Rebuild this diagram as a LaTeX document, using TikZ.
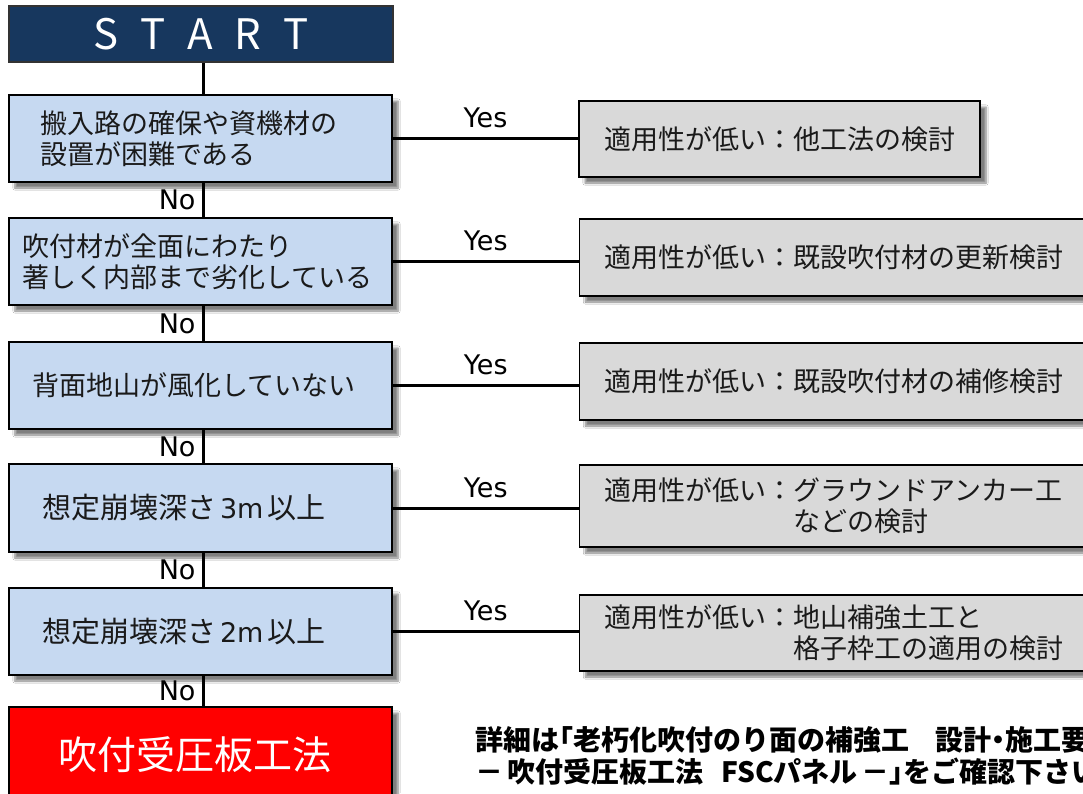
\documentclass[tikz,border=0pt]{standalone}
\usepackage{fontspec}
\setmainfont{Noto Sans CJK JP}
\newfontfamily\latf{DejaVu Sans}
\usetikzlibrary{shadows.blur}
\definecolor{navy}{HTML}{17375E}
\definecolor{qfill}{HTML}{C6D9F1}
\definecolor{rfill}{HTML}{D9D9D9}
\definecolor{txt}{HTML}{1A1A1A}
\newcommand{\narrowp}[1]{{\addfontfeature{RawFeature=+palt}#1}}
\newcommand{\wm}[1]{\hspace{4pt}{\latf\fontsize{27}{31}\selectfont #1}\hspace{4pt}}
\tikzset{
  shadowed/.style={blur shadow={shadow xshift=6pt, shadow yshift=-6pt, shadow blur steps=6, shadow opacity=50}},
  qbox/.style={draw=black, line width=1.5pt, fill=qfill, shadowed, minimum width=383pt, minimum height=87pt,
    align=left, text=txt, font=\fontsize{27}{31}\selectfont},
  rbox/.style={draw=black, line width=1.5pt, fill=rfill, shadowed, inner xsep=25pt,
    align=left, text=txt, font=\fontsize{27}{31}\selectfont},
  conn/.style={line width=3pt, draw=black},
  yeslab/.style={above, inner ysep=9pt, inner xsep=0pt, text=black, font=\latf\fontsize{27}{31}\selectfont},
  nolab/.style={left, inner xsep=6pt, inner ysep=0pt, text=black, font=\latf\fontsize{27}{30}\selectfont},
}
\begin{document}
\begin{tikzpicture}[x=1pt,y=-1pt]
\fill[white] (0,0) rectangle (1083,793);
\useasboundingbox (0,0) rectangle (1083,793);
\coordinate (sp) at (203,0);

% start
\node[draw=black!80, line width=1.5pt, fill=navy, minimum width=384pt, minimum height=56pt, text=white,
  font=\fontsize{42}{42}\selectfont, inner sep=0pt] (st) at (201,34)
  {S\hspace{22pt}T\hspace{22pt}A\hspace{22pt}R\hspace{22pt}T};

% questions
\node[qbox, inner xsep=31pt, text width=321pt] (b1) at (200.5,138.5) {搬入路の確保や資機材の\\設置が困難である};
\node[qbox, inner xsep=13pt, text width=357pt] (b2) at (200.5,261.5) {吹付材が全面にわたり\\著しく内部まで劣化している};
\node[qbox, inner xsep=23pt, text width=337pt] (b3) at (200.5,385.5) {背面地山が風化していない};
\node[qbox, inner xsep=33pt, text width=317pt, minimum height=88pt, font=\fontsize{29}{31}\selectfont] (b4) at (200.5,508) {想定崩壊深さ\wm{3m}以上};
\node[qbox, inner xsep=33pt, text width=317pt, font=\fontsize{29}{31}\selectfont] (b5) at (200.5,631.5) {想定崩壊深さ\wm{2m}以上};
\node[draw=black, line width=1.5pt, fill=red, shadowed, minimum width=383pt, minimum height=96pt,
  inner xsep=49pt, text width=285pt, align=left,
  text=white, font=\fontsize{39}{39}\selectfont] (res) at (200.5,755) {吹付受圧板工法};

% results
\node[rbox, text width=351pt, minimum height=76pt] (r1) at (779.5,139) {適用性が低い：他工法の検討};
\node[rbox, text width=470pt, minimum height=77pt] (r2) at (839.5,257.5) {適用性が低い：既設吹付材の更新検討};
\node[rbox, text width=470pt, minimum height=77pt] (r3) at (839.5,381.5) {適用性が低い：既設吹付材の補修検討};
\node[rbox, text width=470pt, minimum height=82pt] (r4) at (839.5,506) {適用性が低い：グラウンドアンカー工\\\hspace*{7em}などの検討};
\node[rbox, text width=470pt, minimum height=76pt] (r5) at (839.5,633) {適用性が低い：地山補強土工と\\\hspace*{7em}格子枠工の適用の検討};

% spine
\draw[conn] (st.south -| sp) -- (b1.north -| sp);
\draw[conn] (b1.south -| sp) -- node[nolab]{No} (b2.north -| sp);
\draw[conn] (b2.south -| sp) -- node[nolab]{No} (b3.north -| sp);
\draw[conn] (b3.south -| sp) -- node[nolab]{No} (b4.north -| sp);
\draw[conn] (b4.south -| sp) -- node[nolab]{No} (b5.north -| sp);
\draw[conn] (b5.south -| sp) -- node[nolab]{No} (res.north -| sp);

% yes branches
\draw[conn] (b1.east) -- node[yeslab]{Yes} (b1.east -| r1.west);
\draw[conn] (b2.east) -- node[yeslab]{Yes} (b2.east -| r2.west);
\draw[conn] (b3.east) -- node[yeslab]{Yes} (b3.east -| r3.west);
\draw[conn] (b4.east) -- node[yeslab]{Yes} (b4.east -| r4.west);
\draw[conn] (b5.east) -- node[yeslab]{Yes} (b5.east -| r5.west);

% note (cut off at the right edge, as in the reference)
\node[anchor=north west, inner sep=0pt, align=left, text=black, font=\bfseries\fontsize{28}{32}\selectfont] (note) at (475,726)
  {詳細は\narrowp{「}老朽化吹付のり面の補強工\hspace{26pt}設計\narrowp{・}施工要\\\narrowp{－}\hspace{4pt}吹付受圧板工法\hspace{18pt}FSCパネル\hspace{4pt}\narrowp{－」}をご確認下さい};
\end{tikzpicture}
\end{document}
